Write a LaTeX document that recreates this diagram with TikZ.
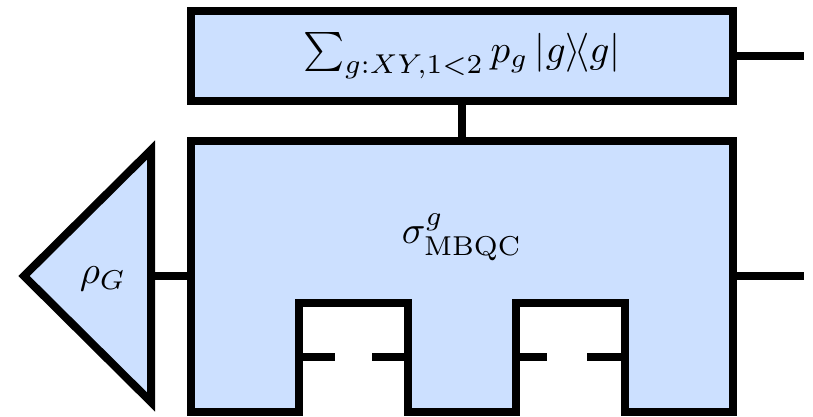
\documentclass[tikz,border=0pt]{standalone}
\usepackage{graphicx}
\usepackage{amsmath}
\definecolor{boxblue}{RGB}{204,224,255}
\begin{document}
\begin{tikzpicture}[x=1pt,y=-1pt,
  wire/.style={line width=8pt,line cap=butt},
  shapebox/.style={draw=black,fill=boxblue,line width=8pt,line join=miter},
  lbl/.style={inner sep=0pt,outer sep=0pt}]
\useasboundingbox (0,0) rectangle (813,417);
% top box
\node[shapebox,rectangle,minimum width=542pt,minimum height=90pt,inner sep=0pt,outer sep=0pt] (top) at (462,56) {};
\node[lbl] (toplabel) at (462,56) {\scalebox{3.9}{$\sum_{g:XY,1<2} p_g \,|g\rangle\!\langle g|$}};
% main box
\coordinate (mtl) at (191,141);
\coordinate (mtr) at (733,141);
\coordinate (mbr) at (733,412);
\coordinate (mbl) at (191,412);
\coordinate (maintop) at (462,141);
\coordinate (mainleft) at (191,276);
\coordinate (mainright) at (733,276);
\draw[shapebox] (mtl) -- (mtr) -- (mbr) -- (625,412) -- (625,303) -- (516,303) -- (516,412)
  -- (408,412) -- (408,303) -- (299,303) -- (299,412) -- (mbl) -- cycle;
\node[lbl] (mainlabel) at (462,237) {\scalebox{3.9}{$\sigma^{g}_{\mathrm{MBQC}}$}};
% notch wires (broken)
\coordinate (n1l) at (299,357); \coordinate (n1a) at (335,357);
\coordinate (n1b) at (372,357); \coordinate (n1r) at (408,357);
\coordinate (n2l) at (516,357); \coordinate (n2a) at (547,357);
\coordinate (n2b) at (587,357); \coordinate (n2r) at (625,357);
\draw[wire] (n1l) -- (n1a);
\draw[wire] (n1b) -- (n1r);
\draw[wire] (n2l) -- (n2a);
\draw[wire] (n2b) -- (n2r);
% triangle
\coordinate (tapex) at (24,276);
\coordinate (ttop) at (151,150);
\coordinate (tbot) at (151,402);
\coordinate (tright) at (151,276);
\draw[shapebox] (tapex) -- (ttop) -- (tbot) -- cycle;
\node[lbl] (rho) at (103,279) {\scalebox{3.9}{$\rho_G$}};
% connectors
\coordinate (topout) at (804,56);
\coordinate (mainout) at (804,276);
\draw[wire] (top.east) -- (topout);
\draw[wire] (top.south) -- (maintop);
\draw[wire] (tright) -- (mainleft);
\draw[wire] (mainright) -- (mainout);
\end{tikzpicture}
\end{document}
